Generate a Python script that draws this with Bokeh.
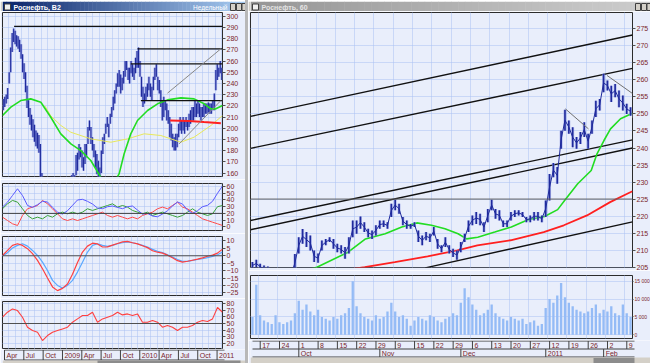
import numpy as np
from bokeh.plotting import figure
from bokeh.models import Range1d, FixedTicker, Label, Spacer, Span
from bokeh.layouts import row, column
from bokeh.embed import file_html
from bokeh.resources import INLINE
from bokeh.core.properties import value

# ---------------- data: left window (weekly bars, Apr 2008 - Feb 2011) ----------------
left_hi = [226,228,230,236,250,272,285,289,287,283,
           282,279,275,266,258,250,238,225,218,212,
           208,203,198,196,194,186,160,150,135,125,
           120,118,115,112,118,122,128,125,130,135,
           138,142,145,150,152,155,158,160,158,176,
           178,186,183,180,174,186,186,201,207,201,
           192,186,180,177,171,165,180,192,195,204,
           210,204,213,219,228,234,240,249,252,248,
           245,251,260,260,254,254,260,257,254,263,
           269,272,260,246,237,231,237,240,246,240,
           237,246,254,257,246,243,234,225,228,225,
           222,216,210,204,195,192,195,195,204,210,
           207,210,207,210,207,213,216,219,219,225,
           222,225,222,219,219,222,222,222,223,222,
           222,225,231,252,257,254,260,254]
left_lo = [216,219,222,226,240,250,268,277,275,273,
           271,268,262,250,244,232,218,210,203,198,
           192,188,184,182,178,150,130,120,110,100,
           95,92,90,88,95,100,105,102,108,112,
           118,122,128,132,138,140,142,145,148,158,
           162,172,174,165,162,168,174,186,198,186,
           180,174,165,159,150,150,160,177,186,195,
           201,192,204,210,216,222,231,237,237,231,
           234,240,246,252,243,240,249,246,243,249,
           254,254,246,228,219,222,225,228,234,228,
           225,234,243,246,234,231,219,207,210,216,
           207,204,192,189,183,180,180,183,192,198,
           195,198,195,201,198,201,204,207,207,210,
           210,213,210,207,210,210,213,213,214,213,
           213,216,216,234,243,246,249,243]
left_quarter_ticks = [0, 13, 26, 39, 52, 65, 78, 91, 104, 117, 130, 143]
left_quarter_labels = ["Apr", "Jul", "Oct", "2009", "Apr", "Jul", "Oct", "2010", "Apr", "Jul", "Oct", "2011"]
left_price_ticks = [160, 170, 180, 190, 200, 210, 220, 230, 240, 250, 260, 270, 280, 290, 300]

left_green_x = [-0.5, 5.1, 11.8, 18.5, 25.3, 32.0, 38.7, 45.5, 52.2, 58.9, 65.7, 72.1, 78.0, 81.3,
                85.8, 90.3, 97.1, 103.8, 110.5, 119.5, 128.4, 135.2, 139.7, 143.0, 147.5]
left_green_y = [211.3, 218.8, 224.7, 226.2, 223.2, 209.8, 195.0, 186.0, 180.0, 171.2, 156.0, 145.0, 159.5, 177.0,
                195.0, 206.9, 215.8, 221.8, 225.3, 227.1, 226.2, 221.8, 217.3, 217.3, 220.3]
left_yellow_x = [28.0, 32.0, 38.7, 45.5, 58.9, 65.7, 72.4, 83.6, 94.8, 106.0, 112.8, 119.5, 128.4, 139.7, 147.5]
left_yellow_y = [220.0, 211.0, 202.5, 196.4, 190.5, 189.0, 187.5, 190.5, 195.0, 193.5, 190.5, 187.5, 192.0, 202.4, 211.3]
left_red_x = [112.3, 125.0, 135.0, 146.4]
left_red_y = [206.9, 206.5, 205.5, 204.5]
left_level_start = [7.3, 90.3, 85.8, 92.6]
left_level_price = [291.0, 270.9, 257.5, 224.7]
left_trend_x0 = [110.5, 118.3]
left_trend_y0 = [231.3, 186.0]
left_trend_x1 = [146.4, 146.4]
left_trend_y1 = [270.9, 224.7]
last_price = 249.57

# indicator panels (45 evenly spaced samples over the weekly range)
dmi_blue = [29.4, 36.8, 46.7, 56.7, 46.7, 31.8, 29.0, 33.0, 38.0, 37.0,
            29.0, 22.0, 19.0, 24.0, 32.0, 40.0, 41.0, 38.0, 34.0, 28.0,
            27.0, 30.0, 31.0, 29.0, 27.0, 30.0, 31.0, 25.0, 19.0, 20.0,
            16.0, 15.0, 19.0, 24.0, 31.0, 37.0, 34.0, 25.0, 20.0, 24.0,
            30.0, 32.0, 38.0, 50.0, 61.0]
dmi_red = [14.4, 9.4, 4.5, 2.0, 16.9, 26.9, 29.4, 31.8, 39.3, 34.3,
           26.9, 19.4, 11.9, 9.4, 11.9, 9.4, 11.9, 14.4, 16.9, 19.4,
           21.9, 16.9, 14.4, 16.9, 14.4, 11.9, 14.4, 11.9, 16.9, 19.4,
           21.9, 26.9, 29.4, 26.9, 31.8, 36.8, 29.4, 26.9, 21.9, 16.9,
           11.9, 9.4, 6.9, 4.5, 2.0]
dmi_green = [26.9, 34.3, 39.3, 36.8, 26.9, 16.9, 11.9, 14.4, 11.9, 16.9,
             14.4, 19.4, 21.9, 19.4, 21.9, 19.4, 21.9, 26.9, 24.4, 26.9,
             29.4, 31.8, 34.3, 29.4, 31.8, 29.4, 24.4, 21.9, 19.4, 21.9,
             16.9, 19.4, 21.9, 19.4, 16.9, 14.4, 16.9, 21.9, 26.9, 21.9,
             19.4, 16.9, 19.4, 30.0, 31.8]
macd_fast = [0.2, 3.6, 7.0, 8.1, 7.0, 4.8, 1.4, -3.1, -8.8, -15.0,
             -21.0, -23.5, -22.0, -19.0, -12.5, -4.5, 2.5, 6.5, 8.5, 8.0,
             5.9, 6.0, 7.2, 8.3, 9.4, 9.7, 8.8, 8.0, 6.8, 5.5,
             3.4, 2.4, 1.8, 0.4, -1.3, -3.3, -4.3, -3.7, -3.0, -2.3,
             -1.4, -0.3, 0.4, 1.8, 4.5]
macd_slow = [-0.2, 2.1, 5.2, 7.0, 8.1, 6.5, 3.6, 0.2, -4.3, -9.9,
             -16.6, -20.0, -21.8, -20.0, -16.6, -11.0, -4.3, 2.5, 7.0, 8.1,
             7.0, 6.3, 7.0, 8.1, 8.8, 9.3, 8.8, 8.1, 7.0, 5.9,
             4.3, 3.0, 2.1, 0.7, -0.9, -2.5, -3.8, -3.8, -3.1, -2.5,
             -2.0, -1.3, -0.4, 0.7, 2.5]
rsi = [59.4, 66.9, 71.9, 69.4, 59.4, 44.4, 39.4, 36.9, 24.4, 31.9,
       36.9, 39.4, 41.9, 44.4, 51.9, 56.9, 61.9, 61.9, 66.9, 51.9,
       56.9, 59.4, 61.9, 66.9, 62.9, 64.4, 61.9, 64.4, 51.9, 51.9,
       54.4, 51.9, 44.4, 46.9, 44.4, 39.4, 44.4, 44.4, 46.9, 51.9,
       54.4, 52.9, 56.9, 74.0, 66.9]

# ---------------- data: right window (daily bars, Sep 2010 - Feb 2011) ----------------
right_hi = [206.5,207.2,206.0,205.5,205.2,204.0,203.5,203.0,202.5,203.0,
            204.0,208.9,213.8,216.2,215.3,214.3,209.9,209.0,212.8,213.3,
            213.8,213.3,211.9,211.4,210.9,213.8,218.7,218.7,219.9,218.2,
            216.3,215.8,217.3,218.7,218.7,218.2,223.6,224.8,223.6,219.7,
            218.7,217.7,218.2,215.8,214.3,215.3,214.8,216.8,213.3,211.4,
            213.8,211.4,210.4,209.9,212.4,214.8,218.7,220.2,221.2,220.7,
            218.2,222.1,224.8,222.1,221.7,218.7,218.7,221.2,221.7,221.7,
            221.2,219.7,220.2,221.2,221.2,220.2,224.6,232.4,235.6,234.4,
            245.1,251.2,248.1,246.1,243.2,244.7,247.6,244.2,248.1,253.9,
            254.4,261.8,259.8,258.3,258.8,256.9,255.4,253.0,252.0]
right_lo = [204.5,205.0,204.3,203.5,203.0,201.5,201.0,200.5,200.0,200.5,
            201.5,203.5,209.0,211.9,210.9,209.9,206.5,206.3,209.9,211.4,
            212.4,210.4,209.4,209.0,207.5,209.0,213.8,214.8,216.3,215.3,
            213.8,213.3,214.3,216.3,216.8,216.3,219.7,221.7,220.7,217.3,
            216.3,216.3,216.8,212.4,211.4,212.9,212.4,214.3,210.4,209.4,
            210.9,209.0,208.0,207.2,209.4,212.4,215.3,217.3,217.7,217.3,
            215.3,218.2,221.7,219.2,218.7,216.8,216.8,218.7,219.7,220.2,
            219.7,218.2,218.2,218.7,218.7,218.2,219.7,224.6,231.4,229.5,
            239.8,245.1,244.2,240.2,239.8,241.2,243.2,239.8,244.2,249.1,
            251.0,256.4,256.9,253.5,254.9,252.0,251.0,250.0,249.5]
right_vol = [5000,14000,5500,4000,3500,3000,5500,3500,3000,3500,
             4000,6000,9500,7000,8500,6500,5500,7000,5000,4500,
             4000,5000,4500,5500,6000,7500,15000,8000,6000,5000,
             4500,4000,5500,4500,5000,6500,9000,6500,5000,5500,
             4500,2500,4000,5000,4500,4000,5500,5000,4000,3500,
             4500,5000,6000,5500,9000,13000,10500,8500,7000,5500,
             6000,7000,8500,6000,5000,4500,4000,5000,4500,4000,
             4500,3000,3500,4000,2500,3000,7500,10000,9000,11000,
             14500,10500,9000,8000,7000,6500,6000,6500,7500,8500,
             6000,7000,6500,8000,6000,5500,8500,6000,5000]
right_week_ticks = [2, 7, 12, 17, 22, 27, 32, 37, 42, 47, 52, 57, 62, 67, 72, 77, 82, 87, 92, 97]
right_week_labels = ["17", "24", "1", "8", "15", "22", "29", "9", "15", "22",
                     "29", "6", "13", "20", "27", "12", "19", "26", "2", "9"]
right_month_starts = [12, 33, 54, 76, 91]
right_month_labels = ["Oct", "Nov", "Dec", "2011", "Feb"]
right_price_ticks = [205, 210, 215, 220, 225, 230, 235, 240, 245, 250, 255, 260, 265, 270, 275]
right_vol_ticks = [0, 5000, 10000, 15000]
right_vol_labels = {0: "0", 5000: "5 000", 10000: "10 000", 15000: "15 000"}

right_green_x = [10, 16.7, 24.8, 29.3, 34.4, 38.7, 42.6, 46.4, 49.9, 53.3, 55.5, 58.4, 62.8,
                 67.1, 71.4, 75.7, 79.1, 80.9, 84.3, 87.8, 89.3, 91.1, 92.8, 95.4, 98.5]
right_green_y = [202.5, 205.0, 209.4, 213.3, 214.8, 216.8, 218.0, 217.3, 216.3, 214.8, 213.3, 213.8, 215.3,
                 216.8, 218.9, 219.9, 221.9, 224.6, 229.5, 233.4, 238.3, 242.2, 245.6, 248.6, 250.2]
right_red_x = [20, 29.1, 36.9, 45.4, 53.1, 58.3, 66.9, 75.5, 80.7, 86.7, 92.7, 97.4, 98.5]
right_red_y = [203.5, 205.0, 206.5, 208.2, 209.9, 211.4, 212.9, 215.3, 217.3, 220.2, 224.1, 226.7, 227.3]
right_chan_x0 = [-0.5, -0.5, -0.5, -0.5, 44.8]
right_chan_y0 = [249.3, 239.9, 218.7, 216.0, 204.8]
right_chan_x1 = [98.5, 98.5, 98.5, 98.5, 98.5]
right_chan_y1 = [273.2, 263.4, 242.4, 240.0, 218.3]
right_thin_x0 = [81.1, 91.9]
right_thin_y0 = [251.5, 261.3]
right_thin_x1 = [87.1, 98.5]
right_thin_y1 = [245.6, 256.0]
right_level = 225.0

# ---------------- styling ----------------
BG = "#e9eefb"
GRID = "#a9c0f2"
FRAME = "#2c2c2c"
LBL = "#7a1f2b"
FONT = "Liberation Sans"
BAR = "#1f2a9c"
HALO = "#8f9ae6"


def base(fw, fh, xr, yr, bl=0, br=0, bt=0, bb=0, yaxis=True):
    p = figure(frame_width=fw, frame_height=fh, x_range=xr, y_range=yr,
               x_axis_location=None, y_axis_location="right" if yaxis else None,
               output_backend="svg", toolbar_location=None,
               min_border_left=bl, min_border_right=br, min_border_top=bt, min_border_bottom=bb)
    p.background_fill_color = BG
    p.border_fill_color = BG
    p.outline_line_color = FRAME
    return p


def style_axis(p, ticks, overrides=None, size="7px"):
    ax = p.yaxis[0]
    ax.ticker = FixedTicker(ticks=ticks)
    if overrides:
        ax.major_label_overrides = overrides
    ax.axis_line_color = None
    ax.major_tick_line_color = "#505050"
    ax.major_tick_out = 3
    ax.major_tick_in = 0
    ax.minor_tick_line_color = None
    ax.major_label_text_font = FONT
    ax.major_label_text_font_size = size
    ax.major_label_text_color = LBL
    ax.major_label_standoff = 1
    p.ygrid.grid_line_color = GRID
    p.ygrid.grid_line_dash = "1 1"
    p.xgrid.grid_line_color = GRID
    p.xgrid.grid_line_dash = "1 1"


def title_bar(w, c0, c1, text, tcolor, right_text=None):
    p = figure(frame_width=w, frame_height=11, x_range=Range1d(0, w), y_range=Range1d(0, 11),
               x_axis_location=None, y_axis_location=None, output_backend="svg",
               toolbar_location=None, min_border=0)
    p.outline_line_color = None
    p.grid.visible = False
    p.border_fill_color = "#d4d0c8"
    n = 60
    xs = np.linspace(0, w, n + 1)
    cols = ["#%02x%02x%02x" % tuple(int(round(a + (b - a) * t)) for a, b in zip(c0, c1))
            for t in np.linspace(0, 1, n)]
    p.quad(left=xs[:-1], right=xs[1:] + 0.5, bottom=0, top=11, fill_color=cols, line_color=None)
    p.quad(left=[2], right=[8], bottom=[2.5], top=[8.5], fill_color="#f0f0f0", line_color="#404040")
    p.text(x=[11], y=[5.5], text=[text], text_font=value(FONT), text_font_size="7px",
           text_font_style="bold", text_color=tcolor, text_baseline="middle")
    bx = [w - 17, w - 11, w - 5.5]
    p.quad(left=bx, right=[b + 5 for b in bx], bottom=2, top=9, fill_color="#d4d0c8", line_color="#404040")
    if right_text:
        p.text(x=[w - 20], y=[5.5], text=[right_text], text_font=value(FONT), text_font_size="6.5px",
               text_color="white", text_baseline="middle", text_align="right")
    return p


# ---------------- left window ----------------
NL = len(left_hi)
LW = 220.0
lppw = LW / NL
xL = Range1d(-0.5, NL - 0.5)
month_grid = list(np.arange(0, 35) * 52.0 / 12.0 - 0.5)
lx = np.arange(NL)
ind_x = np.linspace(-0.5, NL - 0.5, len(rsi))

tL = title_bar(245, (10, 36, 106), (166, 202, 240), "Роснефть, B2", "white", "Недельный")

pL = base(220, 164, xL, Range1d(156.9, 303.3), bl=2, br=23, bt=1, bb=3)
style_axis(pL, left_price_ticks)
pL.xgrid.ticker = FixedTicker(ticks=month_grid)
pL.segment(x0=lx, y0=left_lo, x1=lx, y1=left_hi, line_color=HALO, line_width=2.6, line_alpha=0.7)
pL.segment(x0=lx, y0=left_lo, x1=lx, y1=left_hi, line_color=BAR, line_width=1.1)
pL.line(left_yellow_x, left_yellow_y, line_color="#e8e85a", line_width=1)
pL.line(left_green_x, left_green_y, line_color="#22dd22", line_width=1.6)
pL.line(left_red_x, left_red_y, line_color="#ff2020", line_width=2)
pL.segment(x0=left_level_start, y0=left_level_price, x1=[NL - 0.5] * len(left_level_start),
           y1=left_level_price, line_color="#111111", line_width=1.3)
pL.segment(x0=left_trend_x0, y0=left_trend_y0, x1=left_trend_x1, y1=left_trend_y1,
           line_color="#888888", line_width=1)
pL.add_layout(Label(x=NL - 0.5, y=last_price, x_offset=1, text="%.2f" % last_price,
                    text_font=FONT, text_font_size="6px", text_baseline="middle",
                    text_color="#203070", background_fill_color="white",
                    border_line_color="#505050"))

p2 = base(220, 47, xL, Range1d(-5.5, 64.6), bl=2, br=23, bt=4, bb=3)
style_axis(p2, [0, 10, 20, 30, 40, 50, 60])
p2.xgrid.ticker = FixedTicker(ticks=month_grid)
p2.add_layout(Span(location=20, dimension="width", line_color="#404040", line_width=1))
p2.line(ind_x, dmi_green, line_color="#3aa23a", line_width=1)
p2.line(ind_x, dmi_red, line_color="#ff4a4a", line_width=1)
p2.line(ind_x, dmi_blue, line_color="#5a5aff", line_width=1)

p3 = base(220, 59, xL, Range1d(-26.8, 13.0), bl=2, br=23, bt=3, bb=3)
style_axis(p3, [-25, -20, -15, -10, -5, 0, 5, 10])
p3.xgrid.ticker = FixedTicker(ticks=month_grid)
p3.add_layout(Span(location=0, dimension="width", line_color="#505050", line_width=1))
p3.line(ind_x, macd_slow, line_color="#5aa8ff", line_width=1.2)
p3.line(ind_x, macd_fast, line_color="#ff4040", line_width=1.2)

p4 = base(220, 48, xL, Range1d(11, 83), bl=2, br=23, bt=3, bb=0)
style_axis(p4, [20, 30, 40, 50, 60, 70, 80])
p4.xgrid.ticker = FixedTicker(ticks=month_grid)
p4.add_layout(Span(location=50, dimension="width", line_color="#505050", line_width=1))
p4.line(ind_x, rsi, line_color="#ff4040", line_width=1.1)

# left date strip
dL = figure(frame_width=245, frame_height=14,
            x_range=Range1d(-0.5 - 2 / lppw, NL - 0.5 + 23 / lppw), y_range=Range1d(0, 14),
            x_axis_location=None, y_axis_location=None, output_backend="svg",
            toolbar_location=None, min_border=0)
dL.extra_x_ranges = {"px": Range1d(0, 245)}
dL.grid.visible = False
dL.outline_line_color = None
dL.background_fill_color = BG
dL.border_fill_color = BG
dL.segment(x0=[2, 2], y0=[13.5, 3.5], x1=[222, 222], y1=[13.5, 3.5], x_range_name="px",
           line_color="#404040", line_width=1)
qt = np.array(left_quarter_ticks) - 0.5
dL.segment(x0=qt, y0=3.5, x1=qt, y1=13.5, line_color="#404040", line_width=1)
dL.text(x=qt, y=8.5, text=left_quarter_labels, x_offset=2, text_font=value(FONT),
        text_font_size="7px", text_color=LBL, text_baseline="middle")
dL.quad(left=[0], right=[245], bottom=[0], top=[3], x_range_name="px", fill_color="#d4d0c8", line_color=None)
dL.quad(left=[95], right=[238], bottom=[0], top=[3], x_range_name="px", fill_color="#8c8c8c", line_color=None)

left_col = column(tL, pL, p2, p3, p4, dL)

# ---------------- right window ----------------
NR = len(right_hi)
rppd = 382.0 / NR
xR = Range1d(-0.5, NR - 0.5)
rx = np.arange(NR)
week_grid = list(np.array(right_week_ticks) - 0.5)
right_mid = (np.array(right_hi) + np.array(right_lo)) / 2.0

tR = title_bar(402, (150, 150, 150), (205, 205, 205), "Роснефть, 60", "#e4e4e4")

pR = base(382, 255, xR, Range1d(204.9, 279.8), bl=2, br=18, bt=1, bb=3)
style_axis(pR, right_price_ticks)
pR.xgrid.ticker = FixedTicker(ticks=week_grid)
pR.add_layout(Span(location=right_level, dimension="width", line_color="#606060", line_width=1))
pR.segment(x0=right_chan_x0, y0=right_chan_y0, x1=right_chan_x1, y1=right_chan_y1,
           line_color="#111111", line_width=1.4)
pR.line(right_red_x, right_red_y, line_color="#ff2020", line_width=1.8)
pR.line(right_green_x, right_green_y, line_color="#22dd22", line_width=1.6)
pR.segment(x0=rx, y0=right_lo, x1=rx, y1=right_hi, line_color=HALO, line_width=3, line_alpha=0.6)
pR.line(rx, right_mid, line_color=BAR, line_width=1)
pR.segment(x0=rx, y0=right_lo, x1=rx, y1=right_hi, line_color=BAR, line_width=1.6)
pR.segment(x0=right_thin_x0, y0=right_thin_y0, x1=right_thin_x1, y1=right_thin_y1,
           line_color="#707070", line_width=1)
pR.add_layout(Label(x=NR - 0.5, y=last_price, x_offset=0, text="%.2f" % last_price,
                    text_font=FONT, text_font_size="5.5px", text_baseline="middle",
                    text_color="#203070", background_fill_color="white",
                    border_line_color="#505050"))

vR = base(382, 63, xR, Range1d(-1040, 16600), bl=2, br=18, bt=5, bb=2)
style_axis(vR, right_vol_ticks, right_vol_labels, size="5px")
vR.yaxis[0].major_tick_out = 1
vR.xgrid.ticker = FixedTicker(ticks=week_grid)
vR.vbar(x=rx, top=right_vol, bottom=0, width=0.6, fill_color="#94bbf6", line_color=None)

dR = figure(frame_width=402, frame_height=23,
            x_range=Range1d(-0.5 - 2 / rppd, NR - 0.5 + 18 / rppd), y_range=Range1d(0, 23),
            x_axis_location=None, y_axis_location=None, output_backend="svg",
            toolbar_location=None, min_border=0)
dR.extra_x_ranges = {"px": Range1d(0, 402)}
dR.grid.visible = False
dR.outline_line_color = None
dR.background_fill_color = BG
dR.border_fill_color = BG
dR.segment(x0=[2, 2, 2], y0=[22.5, 14.5, 6.5], x1=[384, 384, 384], y1=[22.5, 14.5, 6.5],
           x_range_name="px", line_color="#404040", line_width=1)
wt = np.array(right_week_ticks) - 0.5
dR.segment(x0=wt, y0=14.5, x1=wt, y1=22.5, line_color="#404040", line_width=1)
dR.text(x=wt, y=18.5, text=right_week_labels, x_offset=2, text_font=value(FONT),
        text_font_size="7px", text_color=LBL, text_baseline="middle")
ms = np.array(right_month_starts) - 0.5
dR.segment(x0=ms, y0=6.5, x1=ms, y1=14.5, line_color="#404040", line_width=1)
dR.text(x=ms, y=10.5, text=right_month_labels, x_offset=2, text_font=value(FONT),
        text_font_size="7px", text_color=LBL, text_baseline="middle")
dR.quad(left=[0], right=[402], bottom=[0], top=[6], x_range_name="px", fill_color="#d4d0c8", line_color=None)
dR.quad(left=[343], right=[384], bottom=[0.5], top=[5.5], x_range_name="px", fill_color="#8c8c8c", line_color=None)

right_col = column(tR, pR, vR, dR)

gap = Spacer(width=3, height=363, styles={"background-color": "#b8b8b8"})
root = row(left_col, gap, right_col)

open("out.html", "w").write(file_html(root, INLINE))
